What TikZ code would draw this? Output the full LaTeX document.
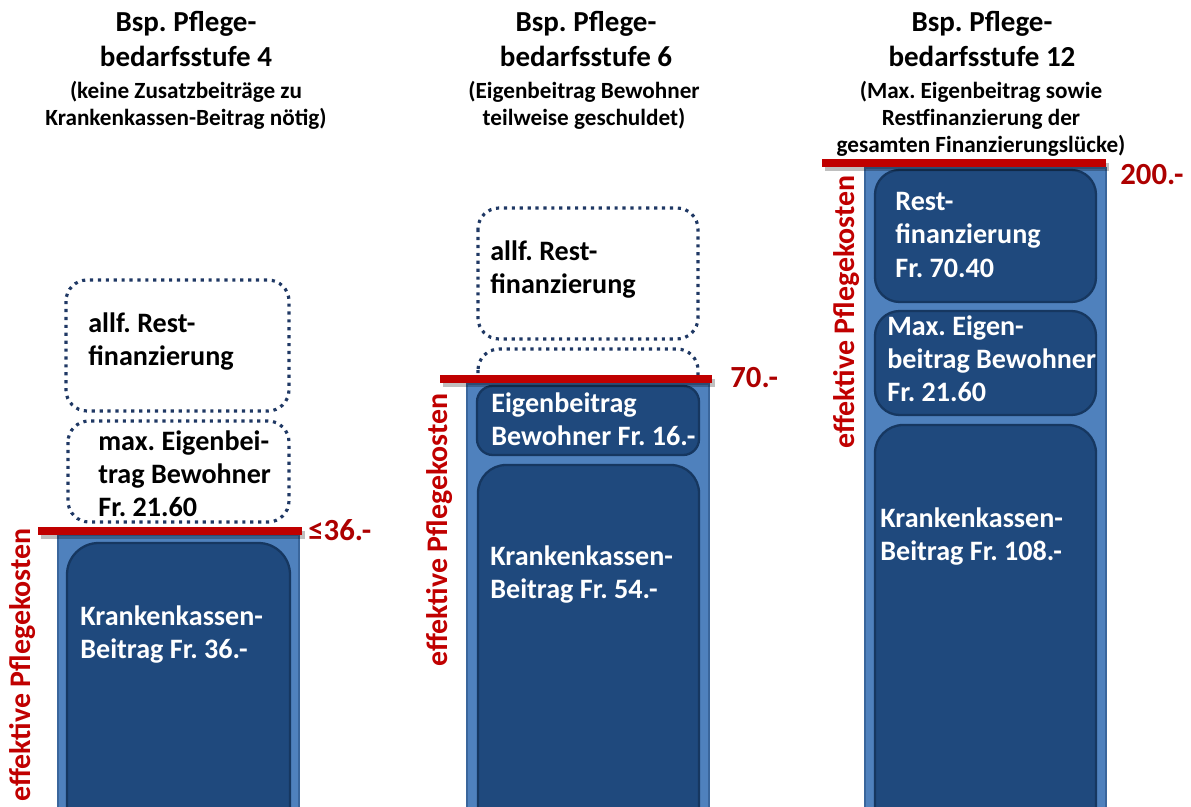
\documentclass[tikz,border=0pt]{standalone}
\usepackage{fontspec}
\setmainfont{Carlito}
\frenchspacing
\usetikzlibrary{positioning}
\definecolor{barblue}{HTML}{4F81BD}
\definecolor{barline}{HTML}{3A669C}
\definecolor{boxblue}{HTML}{1F497D}
\definecolor{boxline}{HTML}{163760}
\definecolor{capred}{HTML}{C00000}
\definecolor{dotblue}{HTML}{1F3864}
\tikzset{
  bar/.style={fill=barblue, draw=barline, line width=1pt},
  costbox/.style={fill=boxblue, draw=boxline, line width=1.3pt, rounded corners=14pt},
  openbox/.style={draw=dotblue, line width=1.8pt, dash pattern=on 1.8pt off 2.7pt, rounded corners=12pt},
  capline/.style={draw=capred, line width=5pt},
  capshadow/.style={draw=black, opacity=0.25, line width=5pt},
  boxtext/.style={anchor=north west, inner sep=0pt, align=left, text=white, font=\fontsize{16}{19}\selectfont\bfseries},
  opentext/.style={boxtext, text=black},
  head/.style={anchor=north, inner sep=0pt, align=center, font=\fontsize{16.5}{20}\selectfont\bfseries},
  sub/.style={anchor=north, inner sep=0pt, align=center, font=\fontsize{13.2}{15.4}\selectfont\bfseries},
  level/.style={anchor=west, inner sep=0pt, text=capred!90!black, font=\fontsize{17.5}{20}\selectfont\bfseries},
  costlabel/.style={rotate=90, inner sep=0pt, text=capred, font=\fontsize{17}{19}\selectfont\bfseries}
}
\begin{document}
\begin{tikzpicture}[x=0.02cm, y=-0.02cm]
\useasboundingbox (0,0) rectangle (1191,807);
\clip (0,0) rectangle (1191,807);

% Titles
\node[head] (head4) at (186,11) {Bsp. Pflege-\\bedarfsstufe 4};
\node[sub] (sub4) at (186,81) {(keine Zusatzbeiträge zu\\Krankenkassen-Beitrag nötig)};
\node[head] (head6) at (586,11) {Bsp. Pflege-\\bedarfsstufe 6};
\node[sub] (sub6) at (584,81) {(Eigenbeitrag Bewohner\\teilweise geschuldet)};
\node[head] (head12) at (982,11) {Bsp. Pflege-\\bedarfsstufe 12};
\node[sub] (sub12) at (981,81) {(Max. Eigenbeitrag sowie\\Restfinanzierung der\\gesamten Finanzierungslücke)};

% Stufe 4
\draw[openbox] (66,280) rectangle (289,411);
\node[opentext] (rest4) at (88,312) {allf. Rest-\\finanzierung};
\draw[openbox] (68,421) rectangle (289,522);
\node[opentext] (eigen4) at (98,430) {max. Eigenbei-\\trag Bewohner\\Fr. 21.60};
\draw[bar] (58,535) rectangle (299,830);
\draw[costbox, rounded corners=18pt] (67,543) rectangle (290,840);
\node[boxtext] (kk4) at (80,605) {Krankenkassen-\\Beitrag Fr. 36.-};
\draw[capshadow] (41,535) -- (305,535);
\draw[capline] (38,531) -- (302,531);
\node[level] (lvl4) at (308,530) {≤36.-};
\node[costlabel] (eff4) at (23,665) {effektive Pflegekosten};

% Stufe 6
\draw[openbox] (478,208) rectangle (698,339);
\node[opentext] (rest6) at (490,240) {allf. Rest-\\finanzierung};
\draw[openbox] (478,349) rectangle (698,430);
\draw[bar] (467,384) rectangle (709,830);
\draw[costbox, rounded corners=9pt] (477,386) rectangle (699,455);
\node[boxtext] (eigen6) at (491,392) {Eigenbeitrag\\Bewohner Fr. 16.-};
\draw[costbox, rounded corners=16pt] (478,465) rectangle (699,840);
\node[boxtext] (kk6) at (490,545) {Krankenkassen-\\Beitrag Fr. 54.-};
\draw[capshadow] (443,383) -- (715,383);
\draw[capline] (440,379) -- (712,379);
\node[level] (lvl6) at (730,378) {70.-};
\node[costlabel] (eff6) at (440,530) {effektive Pflegekosten};

% Stufe 12
\draw[bar] (865,168) rectangle (1106,830);
\draw[costbox] (875,170) rectangle (1096,302);
\node[boxtext] (rest12) at (895,192) {Rest-\\finanzierung\\Fr. 70.40};
\draw[costbox] (875,311) rectangle (1096,415);
\node[boxtext] (eigen12) at (887,315) {Max. Eigen-\\beitrag Bewohner\\Fr. 21.60};
\draw[costbox, rounded corners=16pt] (875,425) rectangle (1096,840);
\node[boxtext] (kk12) at (880,507) {Krankenkassen-\\Beitrag Fr. 108.-};
\draw[capshadow] (825,167) -- (1109,167);
\draw[capline] (822,163) -- (1106,163);
\node[level] (lvl12) at (1120,175) {200.-};
\node[costlabel] (eff12) at (847,312) {effektive Pflegekosten};
\end{tikzpicture}
\end{document}
